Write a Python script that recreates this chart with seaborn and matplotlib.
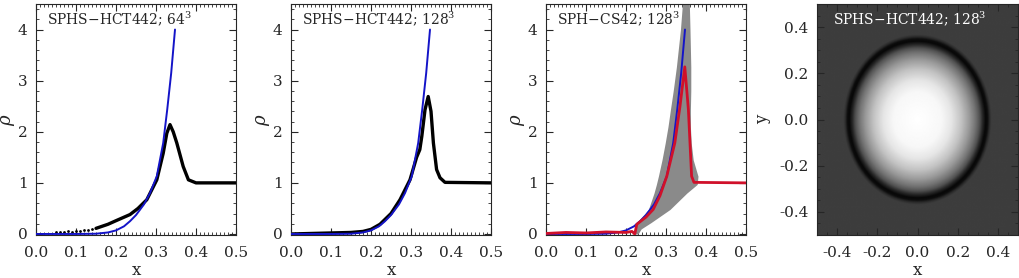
import numpy as np
import pandas as pd
import matplotlib
matplotlib.use("Agg")
import matplotlib.pyplot as plt
from matplotlib.ticker import MultipleLocator, AutoMinorLocator
import seaborn as sns

# analytic solution (blue), same in the three profile panels
exact_x = [0.0, 0.10, 0.15, 0.18, 0.20, 0.22, 0.235, 0.25, 0.27, 0.285, 0.302, 0.318, 0.328, 0.338, 0.3475]
exact_rho = [0.0, 0.0, 0.005, 0.03, 0.07, 0.15, 0.25, 0.37, 0.58, 0.80, 1.13, 1.78, 2.43, 3.15, 4.0]

# SPHS-HCT442 64^3 (black)
p1_dots_x = [0.05, 0.06, 0.07, 0.08, 0.09, 0.10, 0.11, 0.12, 0.13, 0.14]
p1_dots_rho = [0.03, 0.04, 0.03, 0.05, 0.04, 0.06, 0.05, 0.08, 0.07, 0.10]
p1_x = [0.15, 0.18, 0.20, 0.235, 0.255, 0.277, 0.302, 0.318, 0.327, 0.335, 0.343, 0.352, 0.368, 0.381, 0.40, 0.5]
p1_rho = [0.11, 0.19, 0.26, 0.38, 0.50, 0.67, 1.06, 1.58, 1.97, 2.14, 2.00, 1.78, 1.32, 1.06, 1.0, 1.0]

# SPHS-HCT442 128^3 (black)
p2_x = [0.0, 0.05, 0.10, 0.15, 0.18, 0.20, 0.2225, 0.25, 0.2725, 0.2975, 0.314, 0.322, 0.327,
        0.335, 0.343, 0.35, 0.356, 0.364, 0.3725, 0.385, 0.5]
p2_rho = [0.0, 0.01, 0.02, 0.03, 0.05, 0.09, 0.19, 0.40, 0.67, 1.06, 1.50, 1.65, 1.91,
          2.43, 2.69, 2.40, 1.78, 1.26, 1.10, 1.01, 1.0]

# SPH-CS42 128^3: particle cloud envelope (grey) and binned profile (red)
cloud_rho = [0.0, 0.10, 0.22, 0.48, 0.80, 0.97, 1.13, 1.45, 1.78, 2.10, 2.43, 2.80, 3.27, 3.99, 4.6]
cloud_left = [0.215, 0.222, 0.227, 0.256, 0.270, 0.276, 0.281, 0.290, 0.298, 0.305, 0.311, 0.318, 0.326, 0.336, 0.342]
cloud_right = [0.23, 0.238, 0.262, 0.31, 0.352, 0.378, 0.38, 0.368, 0.363, 0.361, 0.361, 0.362, 0.362, 0.360, 0.358]
p3_x = [0.0, 0.05, 0.10, 0.15, 0.20, 0.215, 0.222, 0.227, 0.25, 0.268, 0.285, 0.302, 0.322,
        0.335, 0.347, 0.356, 0.364, 0.37, 0.5]
p3_rho = [0.01, 0.03, 0.02, 0.04, 0.03, 0.05, 0.0, 0.19, 0.33, 0.48, 0.75, 1.13, 1.78,
          2.50, 3.27, 2.43, 1.13, 1.01, 1.0]

# 2D slice: radial grey level
slice_r = [0.0, 0.12, 0.17, 0.22, 0.26, 0.29, 0.31, 0.325, 0.34, 0.35, 0.36, 0.37, 0.8]
slice_level = [1.0, 0.97, 0.90, 0.76, 0.60, 0.45, 0.32, 0.16, 0.03, 0.05, 0.17, 0.24, 0.24]

titles = ["SPHS\u2212HCT442; 64$^3$", "SPHS\u2212HCT442; 128$^3$",
          "SPH\u2212CS42; 128$^3$", "SPHS\u2212HCT442; 128$^3$"]

sns.set_style("ticks")
plt.rcParams['font.family'] = ['DejaVu Serif']
plt.rcParams['mathtext.fontset'] = 'dejavuserif'
plt.rcParams['xtick.direction'] = 'in'
plt.rcParams['ytick.direction'] = 'in'
plt.rcParams['xtick.top'] = True
plt.rcParams['ytick.right'] = True

blue = '#1414c8'
red = '#d0102a'

fig = plt.figure(figsize=(10.2, 2.78), dpi=100)
W, H = 1020, 278
lefts = [36, 291, 546, 817]
widths = [200, 200, 200, 201]
axes = [fig.add_axes([l / W, (H - 235) / H, w / W, 231 / H]) for l, w in zip(lefts, widths)]

exact = pd.DataFrame({'x': exact_x, 'rho': exact_rho})

for i, ax in enumerate(axes[:3]):
    if i == 2:
        ax.fill_betweenx(cloud_rho, cloud_left, cloud_right, color='#8a8a8a', lw=0, zorder=1)
    sns.lineplot(data=exact, x='x', y='rho', ax=ax, color=blue, lw=1.4, sort=False, zorder=3)
    if i == 0:
        sns.lineplot(x=p1_x, y=p1_rho, ax=ax, color='black', lw=2.4, sort=False, zorder=2)
        sns.scatterplot(x=p1_dots_x, y=p1_dots_rho, ax=ax, color='black', s=4, lw=0, zorder=2)
    elif i == 1:
        sns.lineplot(x=p2_x, y=p2_rho, ax=ax, color='black', lw=2.4, sort=False, zorder=2)
    else:
        sns.lineplot(x=p3_x, y=p3_rho, ax=ax, color=red, lw=2.0, sort=False, zorder=4)
    ax.set_xlim(0, 0.5)
    ax.set_ylim(-0.02, 4.5)
    ax.xaxis.set_major_locator(MultipleLocator(0.1))
    ax.xaxis.set_minor_locator(AutoMinorLocator(10))
    ax.yaxis.set_major_locator(MultipleLocator(1))
    ax.yaxis.set_minor_locator(AutoMinorLocator(5))
    ax.xaxis.set_major_formatter(plt.FormatStrFormatter('%.1f'))
    ax.set_xlabel('x', fontsize=12)
    ax.set_ylabel(r'$\rho$', fontsize=13)
    ax.xaxis.set_label_coords(0.5, -0.117)
    ax.yaxis.set_label_coords(-0.095, 0.5)
    ax.text(0.055, 0.975, titles[i], transform=ax.transAxes, fontsize=10, va='top', ha='left', zorder=5)

# slice panel
ax = axes[3]
g = np.linspace(-0.5, 0.5, 256)
gx, gy = np.meshgrid(g, g)
img = np.interp(np.hypot(gx, gy), slice_r, slice_level)
ax.imshow(img, cmap='gray', vmin=0, vmax=1, extent=[-0.5, 0.5, -0.5, 0.5],
          origin='lower', aspect='auto', interpolation='bilinear')
ax.set_xlim(-0.5, 0.5)
ax.set_ylim(-0.5, 0.5)
ax.xaxis.set_major_locator(MultipleLocator(0.2))
ax.yaxis.set_major_locator(MultipleLocator(0.2))
ax.xaxis.set_minor_locator(AutoMinorLocator(4))
ax.yaxis.set_minor_locator(AutoMinorLocator(4))
ax.xaxis.set_major_formatter(plt.FormatStrFormatter('%.1f'))
ax.yaxis.set_major_formatter(plt.FormatStrFormatter('%.1f'))
ax.set_xlabel('x', fontsize=12)
ax.set_ylabel('y', fontsize=12)
ax.xaxis.set_label_coords(0.5, -0.117)
ax.yaxis.set_label_coords(-0.229, 0.5)
ax.text(0.08, 0.975, titles[3], transform=ax.transAxes, fontsize=10, va='top', ha='left', color='white')

for ax in axes:
    ax.tick_params(which='major', length=5, width=0.8, labelsize=11, pad=6)
    ax.tick_params(axis='x', which='major', pad=8)
    ax.tick_params(which='minor', length=2.5, width=0.6)
    for s in ax.spines.values():
        s.set_linewidth(0.8)

fig.savefig('out.png', dpi=100)
